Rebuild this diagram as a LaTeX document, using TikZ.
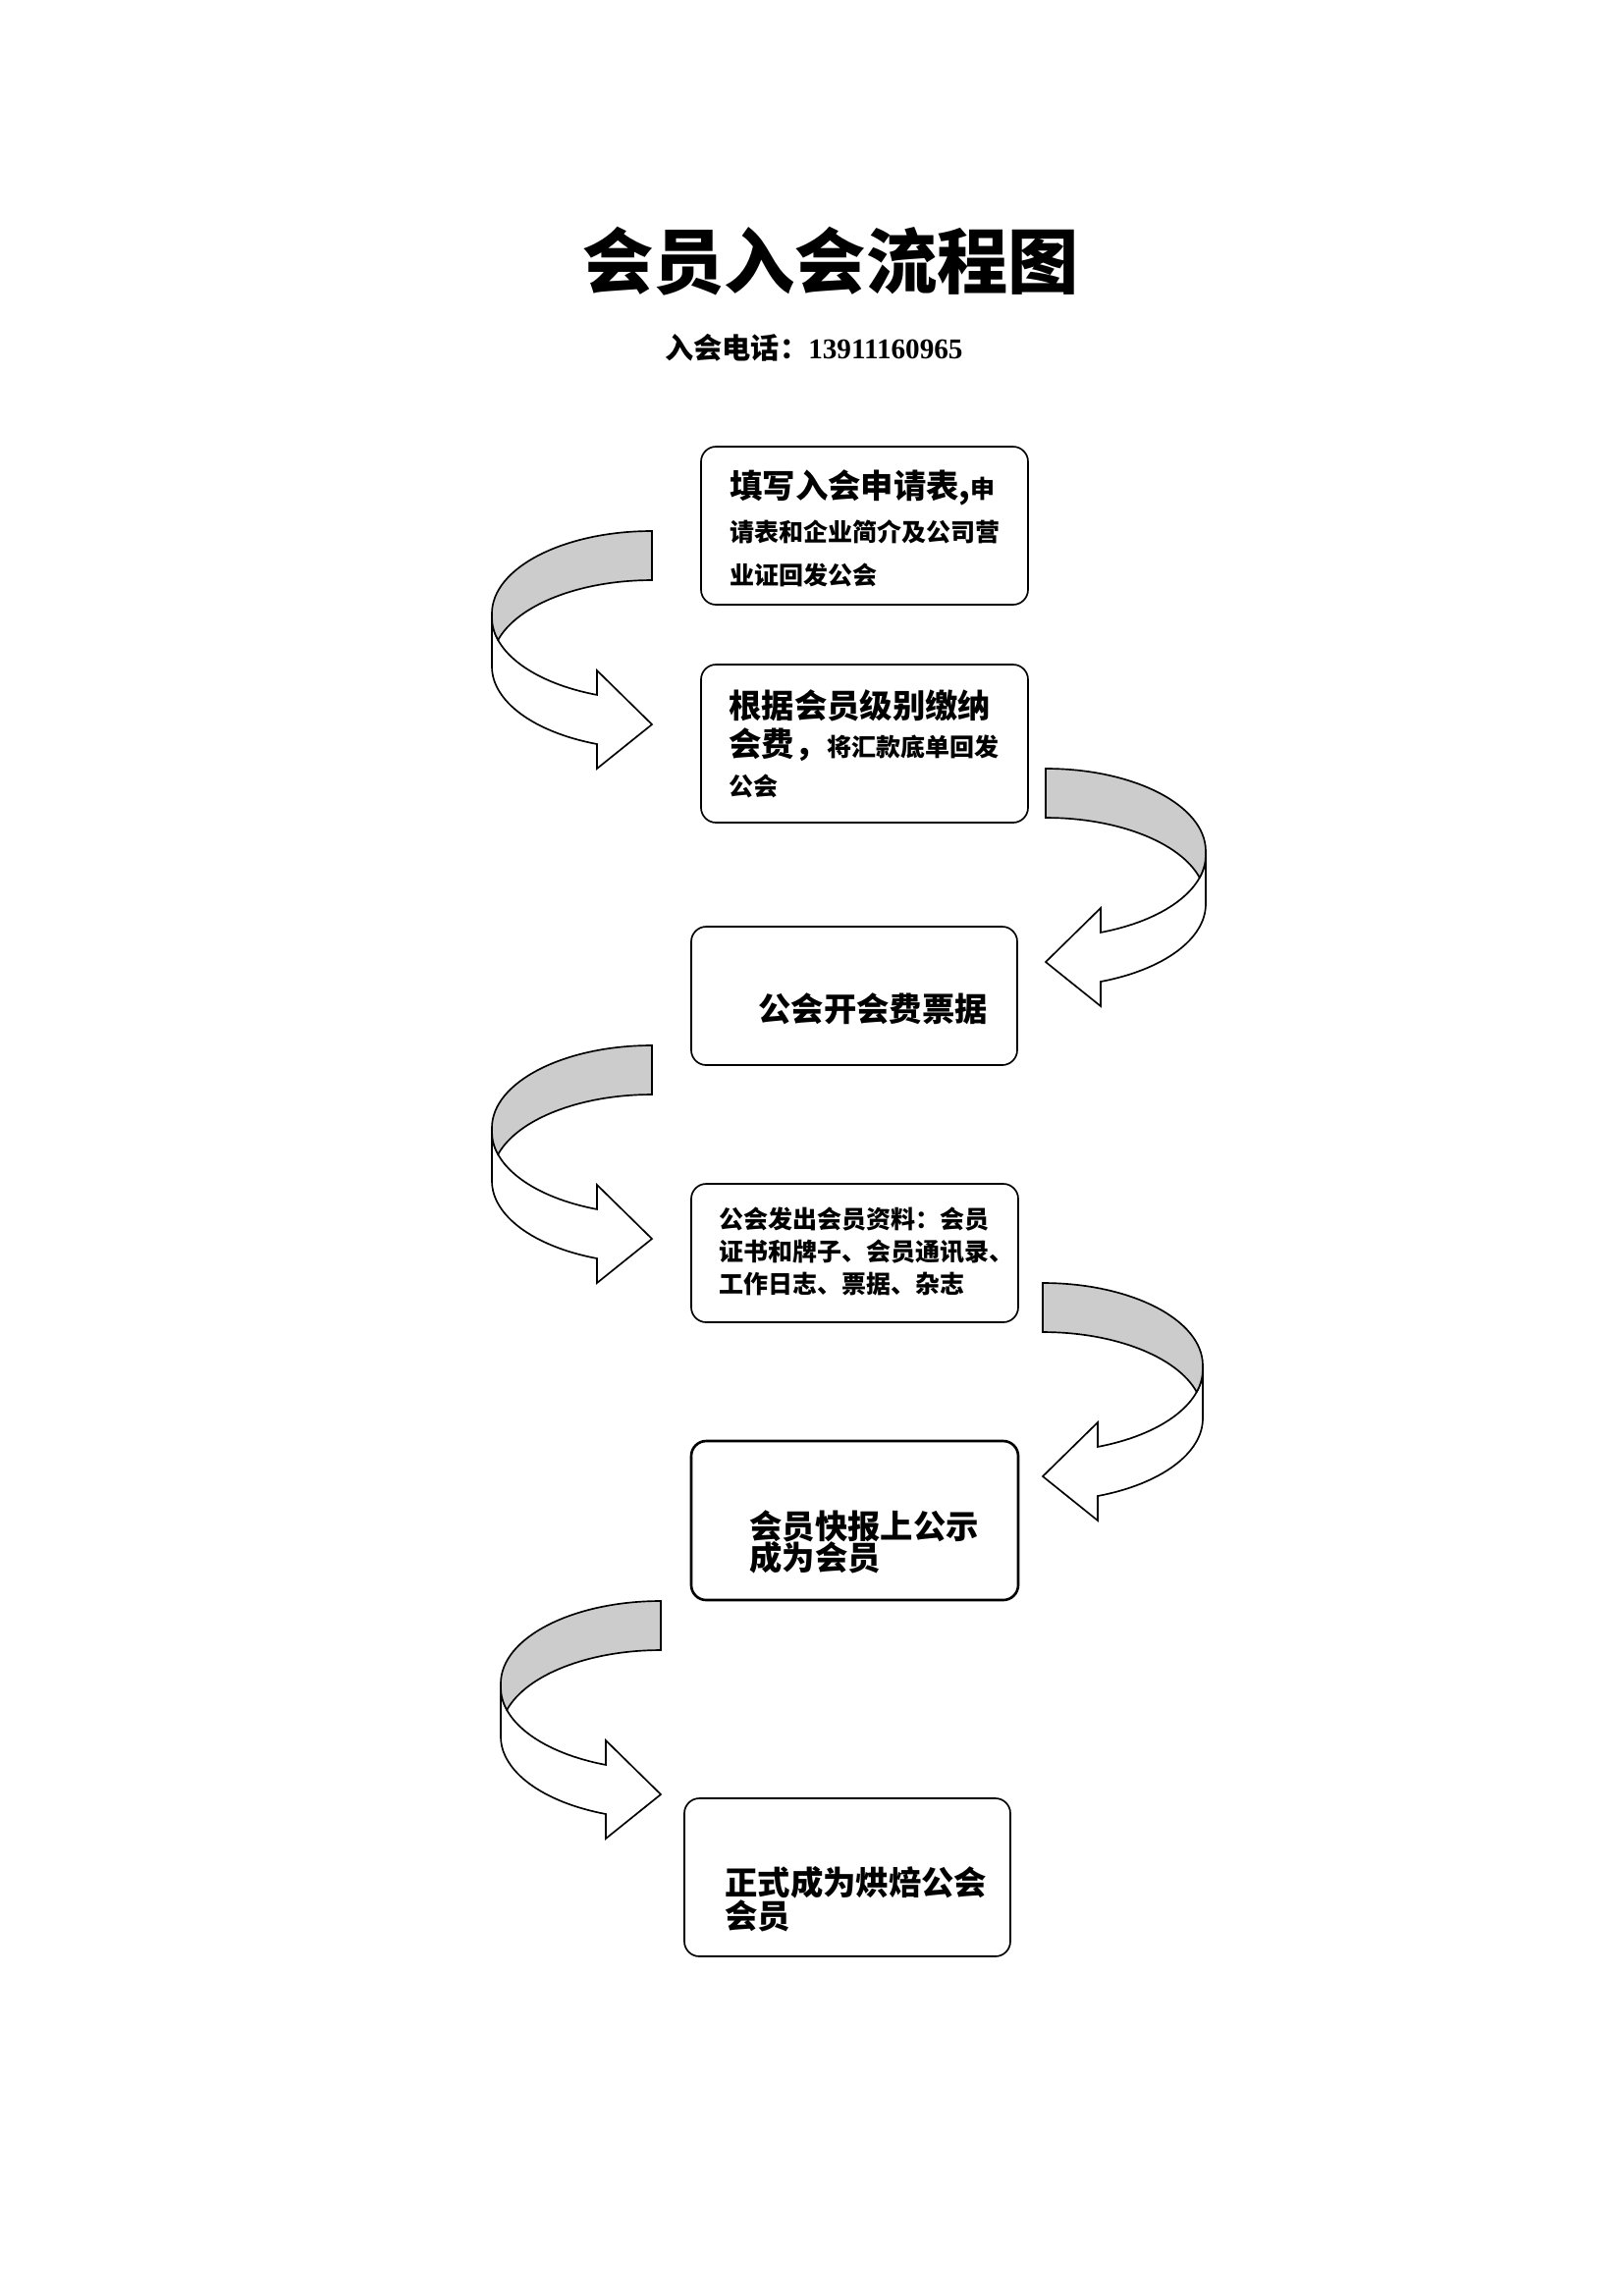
\documentclass[tikz,border=0pt]{standalone}
\usepackage{fontspec}
\newfontfamily\cjk{Noto Sans CJK SC}
\newfontfamily\tnr{Liberation Serif}
\def\pxlen{0.3599pt}
\setlength\lineskiplimit{-20pt}
\tikzset{
  box/.style={draw, line width=0.6pt, rounded corners=5.5pt, inner sep=0pt, fill=white},
  txt/.style={anchor=west, inner sep=0pt, align=left},
  bandline/.style={draw, line width=0.6pt, line join=miter},
  bendarrow/.pic={
    \draw[bandline, fill=white] (-163,88) arc[start angle=180, end angle=110.1, x radius=163, y radius=84]
      -- (-56,142) -- (0,197) -- (-56,242) -- (-56,217)
      arc[start angle=110.1, end angle=180, x radius=163, y radius=84] -- cycle;
    \draw[bandline, fill=black!20] (0,0) arc[start angle=270, end angle=180, x radius=163, y radius=84]
      -- (-163,88) arc[start angle=180, end angle=164.1, x radius=163, y radius=84]
      arc[start angle=195.9, end angle=270, x radius=163, y radius=84] -- cycle;
  }
}
\begin{document}
\begin{tikzpicture}[x=0.3599pt, y=-0.3599pt]
\fill[white] (0,0) rectangle (1654,2339);
\useasboundingbox (0,0) rectangle (1654,2339);

% title
\node[inner sep=0pt, font=\cjk\bfseries\fontsize{26pt}{30pt}\selectfont] (title) at (846,266) {会员入会流程图};
\node[inner sep=0pt, font=\fontsize{10.5pt}{12pt}\selectfont] (phone) at (829,354) {{\cjk\bfseries 入会电话：}{\tnr\bfseries 13911160965}};

% boxes
\node[box, minimum width=333*\pxlen, minimum height=161*\pxlen] (b1) at (880.5,535.5) {};
\node[box, minimum width=333*\pxlen, minimum height=161*\pxlen] (b2) at (880.5,757.5) {};
\node[box, minimum width=332*\pxlen, minimum height=141*\pxlen] (b3) at (870,1014.5) {};
\node[box, minimum width=333*\pxlen, minimum height=141*\pxlen] (b4) at (870.5,1276.5) {};
\node[box, line width=0.95pt, minimum width=333*\pxlen, minimum height=162*\pxlen] (b5) at (870.5,1549) {};
\node[box, minimum width=332*\pxlen, minimum height=161*\pxlen] (b6) at (863,1912.5) {};

% texts
\node[txt, font=\cjk\bfseries\fontsize{9pt}{15.8pt}\selectfont] (t1) at (743,538)
  {{\fontsize{12pt}{15.8pt}\selectfont 填写入会申请表,}申\\请表和企业简介及公司营\\业证回发公会};
\node[txt, font=\cjk\bfseries\fontsize{9pt}{14.2pt}\selectfont] (t2) at (742,757.5)
  {{\fontsize{12pt}{14.2pt}\selectfont 根据会员级别缴纳}\\{\fontsize{12pt}{14.2pt}\selectfont 会费，}将汇款底单回发\\公会};
\node[txt, font=\cjk\bfseries\fontsize{12pt}{14pt}\selectfont] (t3) at (772,1028) {公会开会费票据};
\node[txt, font=\cjk\bfseries\fontsize{9pt}{11.9pt}\selectfont] (t4) at (732,1275)
  {公会发出会员资料：会员\\证书和牌子、会员通讯录、\\工作日志、票据、杂志};
\node[txt, font=\cjk\bfseries\fontsize{12pt}{11.6pt}\selectfont] (t5) at (763,1571) {会员快报上公示\\成为会员};
\node[txt, font=\cjk\bfseries\fontsize{12pt}{12.3pt}\selectfont] (t6) at (738,1935) {正式成为烘焙公会\\会员};

% curved arrows
\coordinate (a1) at (664,541);
\coordinate (a2) at (1065,783);
\coordinate (a3) at (664,1065);
\coordinate (a4) at (1062,1307);
\coordinate (a5) at (673,1631);
\pic at (a1) {bendarrow};
\pic[xscale=-1] at (a2) {bendarrow};
\pic at (a3) {bendarrow};
\pic[xscale=-1] at (a4) {bendarrow};
\pic at (a5) {bendarrow};
\end{tikzpicture}
\end{document}
